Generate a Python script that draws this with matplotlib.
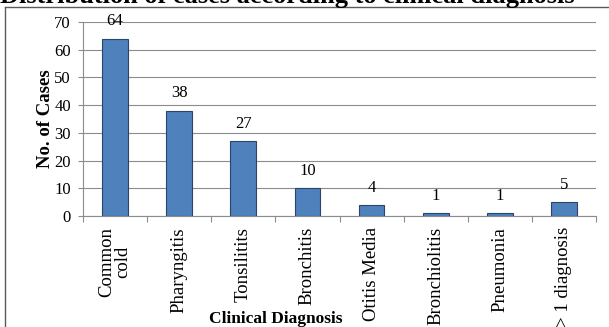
import matplotlib
matplotlib.use("Agg")
import matplotlib.pyplot as plt
from matplotlib.lines import Line2D
import numpy as np

categories = ["Common\ncold", "Pharyngitis", "Tonsilitits", "Bronchitis",
              "Otitis Media", "Bronchiolitis", "Pneumonia", "> 1 diagnosis"]
cases = [64, 38, 27, 10, 4, 1, 1, 5]
y_ticks = [0, 10, 20, 30, 40, 50, 60, 70]

title = "Distribution of cases according to clinical diagnosis"
x_title = "Clinical Diagnosis"
y_title = "No. of Cases"

plt.rcParams["font.family"] = ["Liberation Serif", "DejaVu Serif"]

W, H = 609, 327
fig = plt.figure(figsize=(W / 100, H / 100), dpi=100)
fig.patch.set_facecolor("white")

left, right, top, bottom = 83, 596, 22, 216
ax = fig.add_axes([left / W, 1 - bottom / H, (right - left) / W, (bottom - top) / H])

x = np.arange(len(categories))
bars = ax.bar(x, cases, width=0.4, color="#4F81BD", edgecolor="#2B4468",
              linewidth=0.8, zorder=3)

for xi, v in zip(x, cases):
    ax.annotate(str(v), (xi, v), xytext=(0, 12.5), textcoords="offset points",
                ha="center", va="center", fontsize=12, color="black", zorder=4)

ax.set_xlim(-0.5, len(categories) - 0.5)
ax.set_ylim(0, 70)
ax.set_yticks(y_ticks)
ax.set_yticklabels([str(t) for t in y_ticks], fontsize=12)
ax.yaxis.grid(True, color="#8C8C8C", linewidth=0.8, zorder=0)
ax.set_axisbelow(True)

ax.set_xticks(x)
ax.set_xticklabels(categories, rotation=90, fontsize=13.5, ha="center", va="top",
                   linespacing=0.92)
ax.set_xticks(np.arange(-0.5, len(categories)), minor=True)
ax.tick_params(axis="x", which="major", length=0, pad=8)
ax.tick_params(axis="x", which="minor", length=4.5, width=0.8, color="#8C8C8C",
               direction="out")
ax.tick_params(axis="y", length=3.8, width=0.8, color="#8C8C8C", pad=5,
               direction="out")

for side in ("top", "right"):
    ax.spines[side].set_visible(False)
for side in ("left", "bottom"):
    ax.spines[side].set_color("#8C8C8C")
    ax.spines[side].set_linewidth(0.8)

fig.text(46 / W, 1 - 119 / H, y_title, rotation=90, ha="center", va="center",
         fontsize=13.5, fontweight="bold")
fig.text(276 / W, 1 - 319 / H, x_title, ha="center", va="center",
         fontsize=12.5, fontweight="bold")

fig.text(0.0, 1 - 3 / H, title, ha="left", va="baseline", fontsize=19,
         fontweight="bold")

# outer frame around the chart
fig.add_artist(Line2D([5 / W, 5 / W], [1 - 7 / H, -0.05], transform=fig.transFigure,
                      color="#5A5A5A", linewidth=1.0))
fig.add_artist(Line2D([5 / W, 1.05], [1 - 7 / H, 1 - 7 / H], transform=fig.transFigure,
                      color="#5A5A5A", linewidth=1.0))

fig.savefig("out.png", dpi=100)
